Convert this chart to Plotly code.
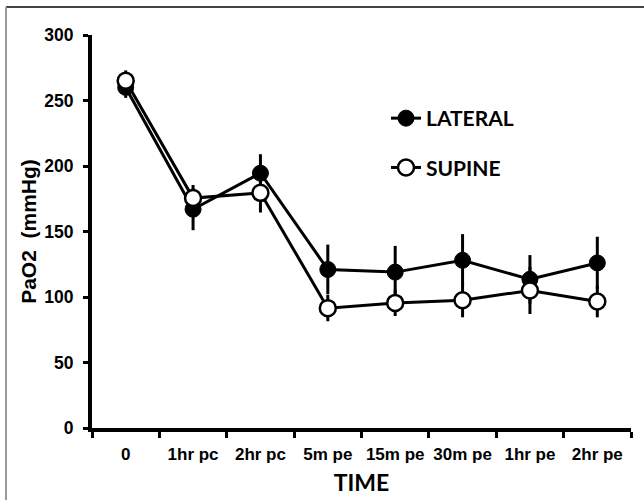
import plotly.graph_objects as go

categories = ["0", "1hr pc", "2hr pc", "5m pe", "15m pe", "30m pe", "1hr pe", "2hr pe"]
lateral = [260, 167, 194.5, 121, 119, 128, 113.5, 126]
lateral_err = [8, 16, 14.5, 19, 20, 20, 18.5, 20]
supine = [265, 175.5, 179.5, 91.5, 95.5, 97.5, 105, 96.5]
supine_err = [8, 10, 15, 10, 10, 13, 18, 12]
y_ticks = [0, 50, 100, 150, 200, 250, 300]

fig = go.Figure()
fig.add_trace(go.Scatter(
    x=categories, y=lateral, name="LATERAL", legendgroup="a",
    mode="lines+markers",
    line=dict(color="black", width=3),
    marker=dict(size=16, color="black", line=dict(color="black", width=1)),
    error_y=dict(type="data", array=lateral_err, color="black", thickness=3, width=0),
))
fig.add_trace(go.Scatter(
    x=categories, y=supine, name="SUPINE", legendgroup="b",
    mode="lines+markers",
    line=dict(color="black", width=3),
    marker=dict(size=16, color="white", line=dict(color="black", width=2.5)),
    error_y=dict(type="data", array=supine_err, color="black", thickness=3, width=0),
))

L, R, T, B = 92, 13, 35, 72
W, H = 644, 500
pw, ph = W - L - R, H - T - B

def px(x):
    return (x - L) / pw

def py(y):
    return (H - B - y) / ph

fig.update_layout(
    width=W, height=H,
    margin=dict(l=L, r=R, t=T, b=B, autoexpand=False),
    paper_bgcolor="white", plot_bgcolor="white",
    showlegend=True,
    legend=dict(
        x=px(386), y=py(98), xanchor="left", yanchor="top",
        font=dict(family="Lato, Liberation Sans, sans-serif", size=21, color="black", weight="bold"),
        bgcolor="rgba(0,0,0,0)", tracegroupgap=19, traceorder="grouped",
    ),
    xaxis=dict(
        type="category", range=[-0.5, 7.5], tickson="boundaries",
        showline=True, linecolor="black", linewidth=4,
        ticks="outside", ticklen=6, tickwidth=3, tickcolor="black",
        showgrid=False, zeroline=False, ticklabelstandoff=8, tickangle=0, automargin=False,
        tickfont=dict(family="Liberation Sans, Arial, sans-serif", size=17, color="black", weight="bold"),
        title=dict(text="TIME", standoff=12,
                   font=dict(family="Lato, Liberation Sans, sans-serif", size=23, color="black", weight="bold")),
    ),
    yaxis=dict(
        range=[0, 300], tickvals=y_ticks,
        showline=True, linecolor="black", linewidth=4,
        ticks="outside", ticklen=5, tickwidth=3, tickcolor="black",
        showgrid=False, zeroline=False, ticklabelstandoff=6, automargin=False,
        tickfont=dict(family="Liberation Sans, Arial, sans-serif", size=17.5, color="black", weight="bold"),
        title=dict(text="PaO2  (mmHg)", standoff=3,
                   font=dict(family="Liberation Sans, Arial, sans-serif", size=21, color="black", weight="bold")),
    ),
    shapes=[
        dict(type="line", xref="paper", yref="paper", x0=px(6), x1=px(700), y0=py(7), y1=py(7),
             line=dict(color="#444444", width=2)),
        dict(type="line", xref="paper", yref="paper", x0=px(6), x1=px(6), y0=py(7), y1=py(600),
             line=dict(color="#999999", width=2)),
    ],
)

fig.write_html("out.html", config={"displayModeBar": False},
               post_script="document.body.style.margin='0';")
